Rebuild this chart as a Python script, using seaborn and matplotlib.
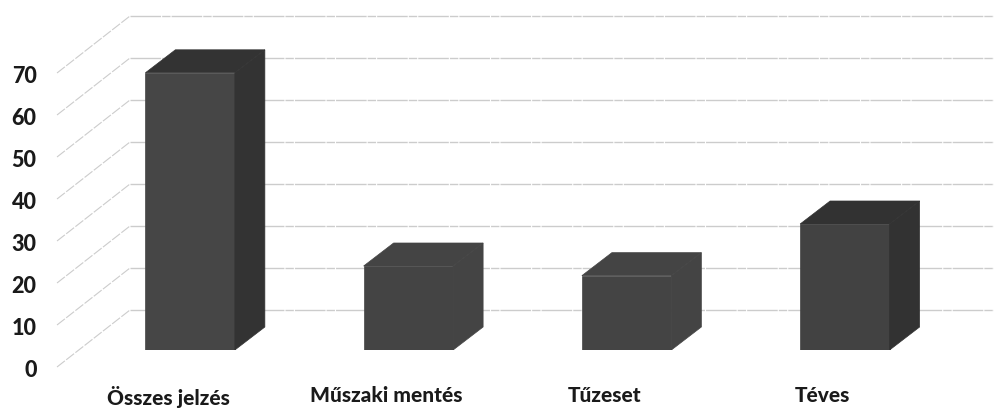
#!/usr/bin/env python
import matplotlib
matplotlib.use("Agg")
import matplotlib.pyplot as plt
import matplotlib.transforms as mtrans
import pandas as pd
import seaborn as sns

categories = ["Összes jelzés", "Műszaki mentés", "Tűzeset", "Téves"]
values = [66, 20, 17.7, 30]
ytick_values = [0, 10, 20, 30, 40, 50, 60, 70]

front_colors = ["#464646", "#444444", "#444444", "#424242"]
shade_colors = ["#333333", "#444444", "#444444", "#323232"]
grid_color = "#cccccc"

W, H, DPI = 994, 409, 100
PX_PER_CAT = 218.3
PX_PER_UNIT = 4.2
DEPTH_X = 30 / PX_PER_CAT
DEPTH_Y = 23 / PX_PER_UNIT

sns.set_style("white")
plt.rcParams["font.family"] = ["Lato", "DejaVu Sans"]

fig = plt.figure(figsize=(W / DPI, H / DPI), dpi=DPI)
ax = fig.add_axes([81 / W, (H - 350) / H, 873 / W, 350 / H])

df = pd.DataFrame({"category": categories, "value": values})
sns.barplot(
    data=df,
    x="category",
    y="value",
    hue="category",
    palette=front_colors,
    saturation=1,
    width=0.41,
    legend=False,
    ax=ax,
    zorder=3,
)
ax.set_xlim(-0.5, 3.5)
ax.set_ylim(0, 350 / PX_PER_UNIT)
ax.set_xlabel("")
ax.set_ylabel("")
sns.despine(ax=ax, left=True, bottom=True)

# ---------- Side and top faces ----------
for patch, shade in zip(list(ax.patches), shade_colors):
    patch.set_edgecolor(patch.get_facecolor())
    patch.set_linewidth(0.5)
    x0 = patch.get_x()
    x1 = x0 + patch.get_width()
    top = patch.get_height()
    ax.fill(
        [x1, x1 + DEPTH_X, x1 + DEPTH_X, x1],
        [0, DEPTH_Y, top + DEPTH_Y, top],
        facecolor=shade, edgecolor=shade, lw=0.5, zorder=3,
    )
    ax.fill(
        [x0, x0 + DEPTH_X, x1 + DEPTH_X, x1],
        [top, top + DEPTH_Y, top + DEPTH_Y, top],
        facecolor=shade, edgecolor=shade, lw=0.5, zorder=3,
    )

# ---------- Back wall and side wall ----------
wall_lift = 40 / PX_PER_UNIT
front_drop = 17 / PX_PER_UNIT
wall_x = -0.5 + (130 - 81) / PX_PER_CAT
front_x = -0.5 + (57 - 81) / PX_PER_CAT
right_x = -0.5 + (994 - 81) / PX_PER_CAT
for tick in ytick_values:
    ax.plot(
        [wall_x, right_x],
        [tick + wall_lift, tick + wall_lift],
        color=grid_color, lw=1.0, ls=(0, (22, 0.8, 6, 0.8)),
        clip_on=False, zorder=1,
    )
    ax.plot(
        [front_x, wall_x],
        [tick - front_drop, tick + wall_lift],
        color=grid_color, lw=0.8, ls=(0, (9, 1.5)),
        clip_on=False, zorder=1,
    )

# ---------- Tick labels ----------
ax.set_yticks(ytick_values)
ax.set_yticklabels([str(t) for t in ytick_values])
ax.tick_params(axis="y", length=0, pad=32, labelsize=15.5)
ax.tick_params(axis="x", length=0, pad=26, labelsize=15)
y_shift = mtrans.ScaledTranslation(0, -18.5 / DPI, fig.dpi_scale_trans)
x_shift = mtrans.ScaledTranslation(-22 / DPI, 0, fig.dpi_scale_trans)
for label in ax.get_yticklabels():
    label.set_transform(label.get_transform() + y_shift)
    label.set_fontweight("black")
    label.set_color("#1a1a1a")
for label in ax.get_xticklabels():
    label.set_transform(label.get_transform() + x_shift)
    label.set_fontweight("black")
    label.set_color("#1a1a1a")

fig.savefig("out.png", dpi=DPI)
